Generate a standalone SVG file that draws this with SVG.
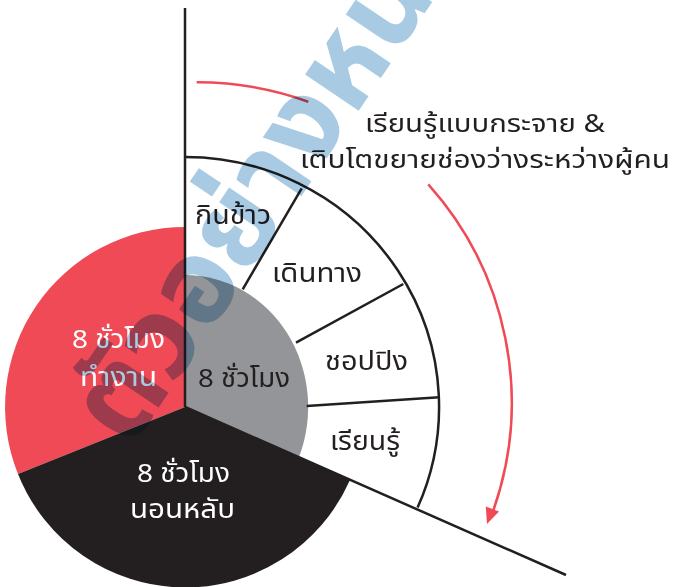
<svg xmlns="http://www.w3.org/2000/svg" width="673" height="587" viewBox="0 0 673 587">
<style>
  .lbl { font-family: "Noto Sans Thai", "Noto Sans", "Liberation Sans", sans-serif; font-size: 26px; fill: #231f20; }
  .cap { font-size: 25px; }
  .wht { fill: #ffffff; }
  .ln { stroke: #231f20; stroke-width: 2.5; fill: none; }
  .red { stroke: #ef4a56; stroke-width: 2.5; fill: none; }
  .wm { font-family: "Noto Sans Thai", "Noto Sans", sans-serif; font-weight: 700; font-size: 118px; fill: #a8cbe3; mix-blend-mode: multiply; }
</style>
<rect width="673" height="587" fill="#ffffff"/>
<g id="sector-work">
  <path d="M185,407 L185,227 A180,180 0 0,0 18,474 Z" fill="#ef4a56"/>
  <text class="lbl wht" x="72" y="348" textLength="93" lengthAdjust="spacingAndGlyphs">8 ชั่วโมง</text>
  <text class="lbl wht" x="80" y="386" textLength="77" lengthAdjust="spacingAndGlyphs">ทำงาน</text>
</g>
<g id="sector-sleep">
  <path d="M185,407 L18,474 A180,180 0 0,0 350,480 Z" fill="#231f20"/>
  <text class="lbl wht" x="137" y="482" textLength="93" lengthAdjust="spacingAndGlyphs">8 ชั่วโมง</text>
  <text class="lbl wht" x="130" y="518" textLength="105" lengthAdjust="spacingAndGlyphs">นอนหลับ</text>
</g>
<g id="sector-free">
  <path d="M185,407 L185,275 A123,132 0 0,1 299,457 Z" fill="#939598"/>
  <text class="lbl" x="198" y="387" textLength="92" lengthAdjust="spacingAndGlyphs">8 ชั่วโมง</text>
</g>
<g id="ring">
  <path class="ln" d="M185,157 A254,250 0 0,1 417.6,507.6"/>
  <g id="seg-eat"><text class="lbl" x="195" y="224" textLength="76" lengthAdjust="spacingAndGlyphs">กินข้าว</text></g>
  <g id="seg-travel"><text class="lbl" x="272" y="282" textLength="90" lengthAdjust="spacingAndGlyphs">เดินทาง</text></g>
  <g id="seg-shop"><text class="lbl" x="325" y="370" textLength="83" lengthAdjust="spacingAndGlyphs">ชอปปิง</text></g>
  <g id="seg-learn"><text class="lbl" x="330" y="450" textLength="70" lengthAdjust="spacingAndGlyphs">เรียนรู้</text></g>
</g>
<g id="connectors">
  <line class="ln" x1="185" y1="8" x2="185" y2="407"/>
  <line class="ln" x1="185" y1="407" x2="566" y2="575"/>
  <line class="ln" x1="242.7" y1="289.3" x2="301.7" y2="188.3"/>
  <line class="ln" x1="296" y1="342.7" x2="403.3" y2="284"/>
  <line class="ln" x1="306.7" y1="406" x2="439.3" y2="397.3"/>
  <path class="red" d="M196.7,82.3 A327,327 0 0,1 308.3,101.7"/>
  <path class="red" d="M428.3,184.3 A327,327 0 0,1 493.5,510"/>
  <polygon points="487,524 499,511.4 485.8,506.6" fill="#ef4a56"/>
</g>
<g id="caption">
  <text class="lbl cap" x="365" y="132" textLength="240" lengthAdjust="spacingAndGlyphs">เรียนรู้แบบกระจาย &amp;</text>
  <text class="lbl cap" x="300" y="168" textLength="370" lengthAdjust="spacingAndGlyphs">เติบโตขยายช่องว่างระหว่างผู้คน</text>
</g>
<g id="watermark">
  <text class="wm" transform="translate(130,450) rotate(-56)">ตัวอย่างหนังสือ</text>
</g>
</svg>
